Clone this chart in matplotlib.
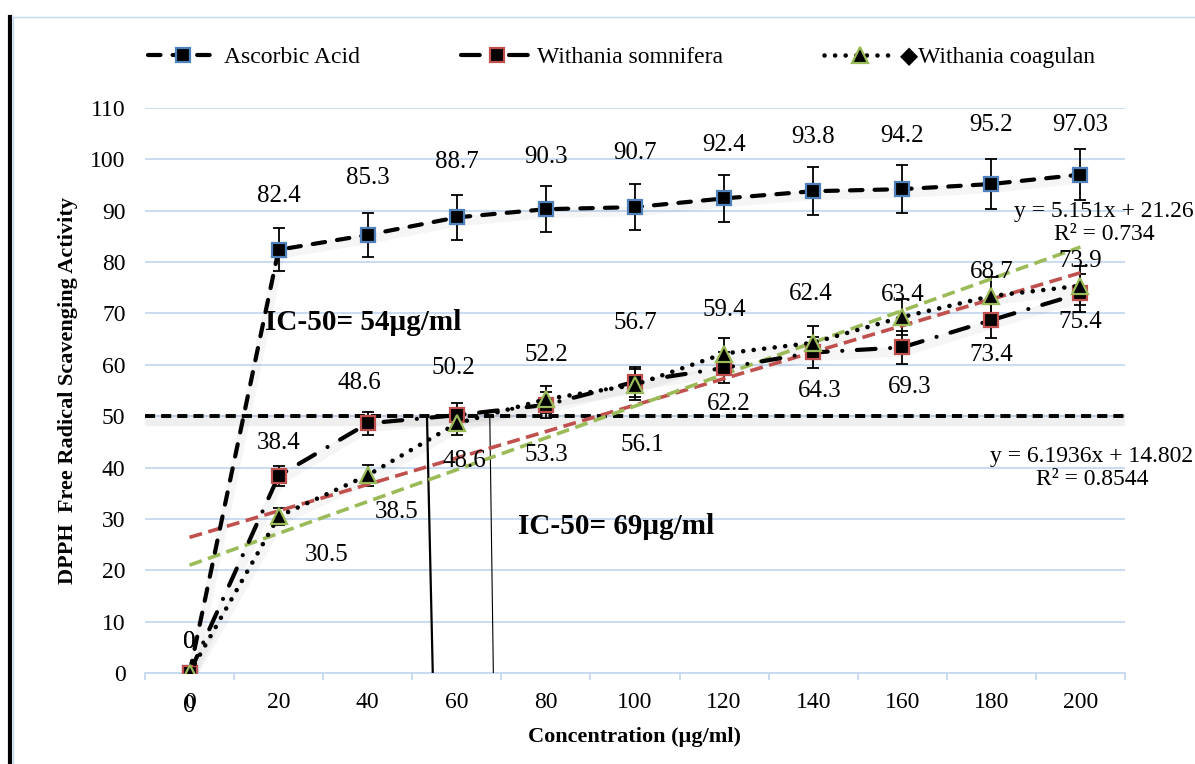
import numpy as np
import matplotlib
matplotlib.use('Agg')
import matplotlib.pyplot as plt
import matplotlib.transforms as mtransforms
from matplotlib.lines import Line2D

plt.rcParams['font.family'] = ['Liberation Serif', 'DejaVu Sans']

# data
concentration = ['0', '20', '40', '60', '80', '100', '120', '140', '160', '180', '200']
ascorbic = [0, 82.4, 85.3, 88.7, 90.3, 90.7, 92.4, 93.8, 94.2, 95.2, 97.03]
somnifera = [0, 38.4, 48.6, 50.2, 52.2, 56.7, 59.4, 62.4, 63.4, 68.7, 73.9]
coagulan = [0, 30.5, 38.5, 48.6, 53.3, 56.1, 62.2, 64.3, 69.3, 73.4, 75.4]
ascorbic_err = [0, 4.2, 4.3, 4.4, 4.5, 4.5, 4.6, 4.7, 4.7, 4.8, 4.9]
somnifera_err = [0, 1.9, 2.3, 2.4, 2.6, 2.9, 3.0, 3.1, 3.2, 3.4, 3.7]
coagulan_err = [0, 1.6, 2.0, 2.2, 2.6, 3.0, 3.1, 3.2, 3.5, 3.7, 3.8]

# linear trendlines (Excel, x = 1..11)
trend_red = (5.151, 21.26)
trend_green = (6.1936, 14.802)
ic50_level = 50
# IC-50 drop lines in ug/ml (top, bottom)
ic50_top = [53.3, 67.4]
ic50_bottom = [54.6, 68.2]

# label offsets in pixels (dx, dy)
asc_off = [(0, 31), (0, 54), (0, 57), (0, 55), (0, 52), (0, 54), (0, 53), (0, 54), (0, 53), (0, 59), (0, 50)]
som_off = [(0, 31), (0, 33), (-8, 40), (-3, 47), (0, 50), (0, 59), (0, 58), (-2, 58), (0, 52), (0, 48), (0, 32)]
coa_off = [(0, -33), (48, -39), (29, -37), (8, -38), (0, -56), (7, -60), (5, -50), (7, -48), (7, -70), (0, -59), (0, -36)]

W, H = 1195, 764
fig = plt.figure(figsize=(W / 100, H / 100), dpi=100)
ax = fig.add_axes([145 / W, (H - 673) / H, 980 / W, 565 / H])

x = np.arange(len(concentration))
grid_col = '#c5d9f1'
blue, red, green = '#4f81bd', '#c0504d', '#9bbb59'


def shadow(xs, ys, lw=7, alpha=0.07):
    tr = mtransforms.offset_copy(ax.transData, fig=fig, x=1.5, y=-4, units='dots')
    ax.plot(xs, ys, color='0.45', alpha=alpha, lw=lw, transform=tr,
            solid_capstyle='round', zorder=1)


# horizontal 50 % line
shadow([-0.5, 10.5], [ic50_level, ic50_level], lw=8, alpha=0.11)
ax.plot([-0.5, 10.5], [ic50_level, ic50_level], color='black', lw=2.8,
        linestyle=(0, (2.6, 1.55)), zorder=3)

# IC-50 drop lines
for t, b, w in zip(ic50_top, ic50_bottom, [1.6, 0.8]):
    ax.plot([t / 20, b / 20], [ic50_level, 0], color='black', lw=w, zorder=3)

# trendlines
tx = np.arange(1, 12)
ax.plot(x, trend_red[0] * tx + trend_red[1], color=red, lw=2.6,
        linestyle=(0, (3.6, 1.8)), zorder=5)
ax.plot(x, trend_green[0] * tx + trend_green[1], color=green, lw=2.6,
        linestyle=(0, (3.6, 1.8)), zorder=5)

# series
for vals in (ascorbic, somnifera, coagulan):
    shadow(x, vals)

ax.errorbar(x, ascorbic, yerr=ascorbic_err, fmt='none', ecolor='black',
            elinewidth=1.3, capsize=4.5, capthick=1.3, zorder=4)
ax.errorbar(x, somnifera, yerr=somnifera_err, fmt='none', ecolor='black',
            elinewidth=1.3, capsize=4.5, capthick=1.3, zorder=4)
ax.errorbar(x, coagulan, yerr=coagulan_err, fmt='none', ecolor='black',
            elinewidth=1.3, capsize=4.5, capthick=1.3, zorder=4)

l_asc, = ax.plot(x, ascorbic, color='black', lw=3, linestyle=(0, (3.0, 2.9)),
                 dash_capstyle='round', marker='s', markersize=10,
                 markerfacecolor='black', markeredgecolor=blue,
                 markeredgewidth=1.6, zorder=6)
l_som, = ax.plot(x, somnifera, color='black', lw=3,
                 linestyle=(0, (4.5, 3.5, 0.01, 3.5)), dash_capstyle='round',
                 marker='s', markersize=10, markerfacecolor='black',
                 markeredgecolor=red, markeredgewidth=1.6, zorder=6)
l_coa, = ax.plot(x, coagulan, color='black', lw=3.3, linestyle=(0, (0.01, 2.3)),
                 dash_capstyle='round', marker='^', markersize=11,
                 markerfacecolor='black', markeredgecolor=green,
                 markeredgewidth=1.6, zorder=7)

# data labels
for vals, offs in ((ascorbic, asc_off), (somnifera, som_off), (coagulan, coa_off)):
    for xi, v, (dx, dy) in zip(x, vals, offs):
        ax.annotate(f'{v:g}', (xi, v), xytext=(dx, dy), textcoords='offset pixels',
                    ha='center', va='center', fontsize=18, zorder=8,
                    annotation_clip=False)

# axes styling
ax.set_xlim(-0.5, 10.5)
ax.set_ylim(0, 110)
ax.set_yticks(range(0, 111, 10))
ax.set_xticks(x)
ax.set_xticklabels(concentration)
ax.set_xticks(np.arange(-0.5, 11, 1), minor=True)
ax.tick_params(axis='y', length=0, labelsize=17, pad=14)
ax.tick_params(axis='x', which='major', length=0, labelsize=17, pad=14)
ax.tick_params(axis='x', which='minor', length=5, width=1.3, color=grid_col)
ax.yaxis.grid(True, color=grid_col, lw=1.3)
ax.set_axisbelow(True)
for side in ('top', 'right', 'left'):
    ax.spines[side].set_visible(False)
ax.spines['bottom'].set_color(grid_col)
ax.spines['bottom'].set_linewidth(1.3)

# labels and annotations
fig.text(68 / W, 1 - 390 / H, 'DPPH  Free Radical Scavenging Activity', rotation=90,
         ha='center', va='center', fontsize=16, fontweight='bold')
fig.text(635 / W, 1 - 737 / H, 'Concentration (µg/ml)', ha='center', va='center',
         fontsize=16, fontweight='bold')
fig.text(265 / W, 1 - 322 / H, 'IC-50= 54µg/ml', ha='left', va='center',
         fontsize=21, fontweight='bold')
fig.text(518 / W, 1 - 527 / H, 'IC-50= 69µg/ml', ha='left', va='center',
         fontsize=21, fontweight='bold')
fig.text(1104 / W, 1 - 223 / H, f'y = {trend_red[0]}x + {trend_red[1]}\nR² = 0.734',
         ha='center', va='center', fontsize=17, linespacing=1.15)
fig.text(1092 / W, 1 - 468 / H, f'y = {trend_green[0]}x + {trend_green[1]}\nR² = 0.8544',
         ha='center', va='center', fontsize=17, linespacing=1.15)

# legend
fig.legend([l_asc, l_som, l_coa],
           ['Ascorbic Acid', 'Withania somnifera', '◆Withania coagulan'],
           loc='center left', bbox_to_anchor=(148 / W, 1 - 57 / H), ncol=3,
           frameon=False, fontsize=17, numpoints=1, handlelength=3.0,
           handletextpad=0.2, columnspacing=4.3, borderpad=0, borderaxespad=0)

# frame decorations
fig.add_artist(Line2D([10 / W, 10 / W], [0, 1 - 17 / H], color='black', lw=3,
                      transform=fig.transFigure))
fig.add_artist(Line2D([12 / W, 1], [1 - 17 / H, 1 - 17 / H], color=grid_col, lw=1,
                      transform=fig.transFigure))
fig.add_artist(Line2D([12.5 / W, 12.5 / W], [0, 1 - 17 / H], color=grid_col, lw=1,
                      transform=fig.transFigure))

fig.savefig('out.png', dpi=100)
